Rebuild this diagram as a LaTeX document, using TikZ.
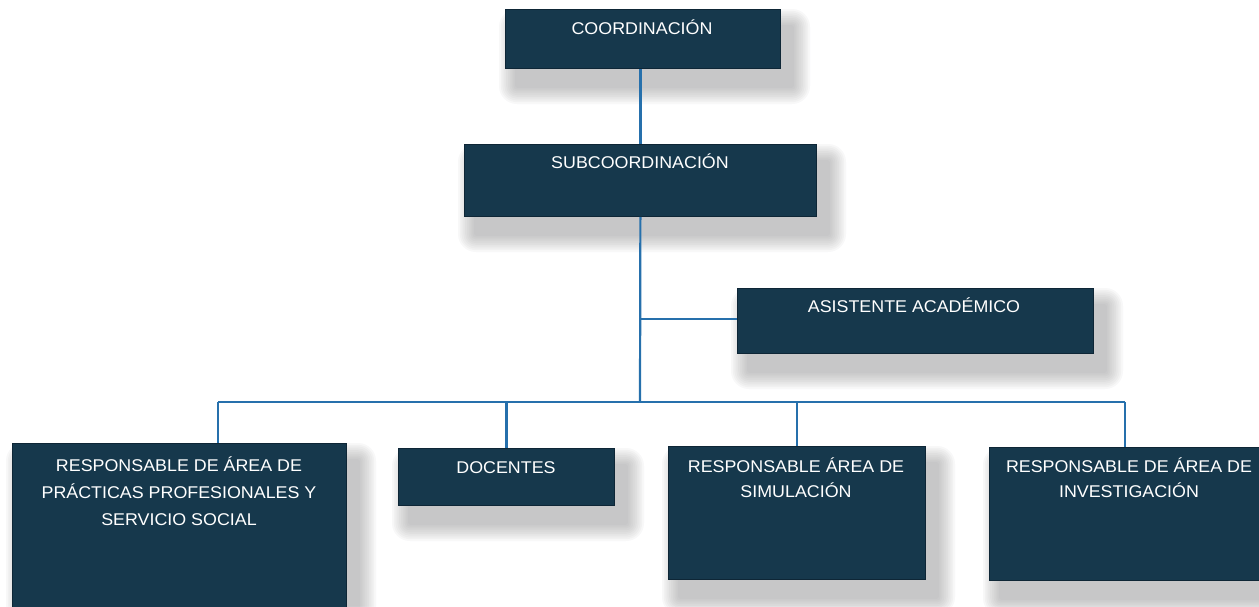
\documentclass[tikz,border=0pt]{standalone}
\usepackage{fontspec}
\setmainfont[FakeStretch=1.05]{Liberation Sans}
\definecolor{boxc}{RGB}{22,56,76}
\definecolor{boxedge}{RGB}{14,38,54}
\definecolor{linec}{RGB}{38,112,172}
\definecolor{shadowc}{RGB}{125,125,130}
\newcommand\blurshadow[4]{%
  \foreach \i in {0,...,9}{%
    \pgfmathsetmacro\e{18-1.8*\i}%
    \fill[shadowc, fill opacity=0.05, rounded corners=\e pt]
      ({#1+12-\e},{#2+18-\e}) rectangle ({#3+12+\e},{#4+18+\e});
  }}
\tikzset{
  orgbox/.style={fill=boxc, draw=boxedge, line width=0.8pt, inner sep=0pt, anchor=north west},
  lbl/.style={text=white, font=\fontsize{17}{25}\selectfont, align=center, inner sep=0pt},
  conn/.style={draw=linec, line width=2.2pt}
}
\begin{document}
\begin{tikzpicture}[x=1pt,y=-1pt]
\useasboundingbox (0,0) rectangle (1259,606);
\fill[white] (0,0) rectangle (1259,606);
% shadows
\blurshadow{505}{9}{780}{68}
\blurshadow{464}{144}{816}{216}
\blurshadow{737}{288}{1093}{353}
\blurshadow{12}{443}{346}{620}
\blurshadow{398}{448}{614}{505}
\blurshadow{668}{446}{925}{579}
\blurshadow{989}{447}{1262}{580}
% boxes
\node[orgbox, minimum width=275pt, minimum height=59pt] (coord) at (505,9) {};
\node[orgbox, minimum width=352pt, minimum height=72pt] (sub) at (464,144) {};
\node[orgbox, minimum width=356pt, minimum height=65pt] (asis) at (737,288) {};
\node[orgbox, minimum width=334pt, minimum height=177pt] (resp) at (12,443) {};
\node[orgbox, minimum width=216pt, minimum height=57pt] (doc) at (398,448) {};
\node[orgbox, minimum width=257pt, minimum height=133pt] (sim) at (668,446) {};
\node[orgbox, minimum width=273pt, minimum height=133pt] (inv) at (989,447) {};
% texts (base anchor = baseline of last line)
\node[lbl, anchor=base] (coordt) at (642,34) {COORDINACIÓN};
\node[lbl, anchor=base] (subt) at (640,168) {SUBCOORDINACIÓN};
\node[lbl, anchor=base] (asist) at (914,312) {ASISTENTE ACADÉMICO};
\node[lbl, anchor=base, font=\fontsize{17}{27}\selectfont] (respt) at (179,525) {RESPONSABLE DE ÁREA DE\\PRÁCTICAS PROFESIONALES Y\\SERVICIO SOCIAL};
\node[lbl, anchor=base] (doct) at (506,473) {DOCENTES};
\node[lbl, anchor=base] (simt) at (796,497) {RESPONSABLE ÁREA DE\\SIMULACIÓN};
\node[lbl, anchor=base] (invt) at (1129,497) {RESPONSABLE DE ÁREA DE\\INVESTIGACIÓN};
% connectors
\coordinate (bus) at (640,402);
\coordinate (busl) at (218,402);
\coordinate (busr) at (1125,402);
\coordinate (asisj) at (640,319);
\draw[conn] (coord.south -| sub.north) -- (sub.north);
\draw[conn] (sub.south) -- (bus);
\draw[conn] (asisj) -- (asis.west |- asisj);
\draw[conn] (busl) -- (busr);
\draw[conn] (busl) -- (busl |- resp.north);
\draw[conn] (doc.north |- bus) -- (doc.north);
\draw[conn] (sim.north |- bus) -- (sim.north);
\draw[conn] (busr) -- (busr |- inv.north);
\end{tikzpicture}
\end{document}
